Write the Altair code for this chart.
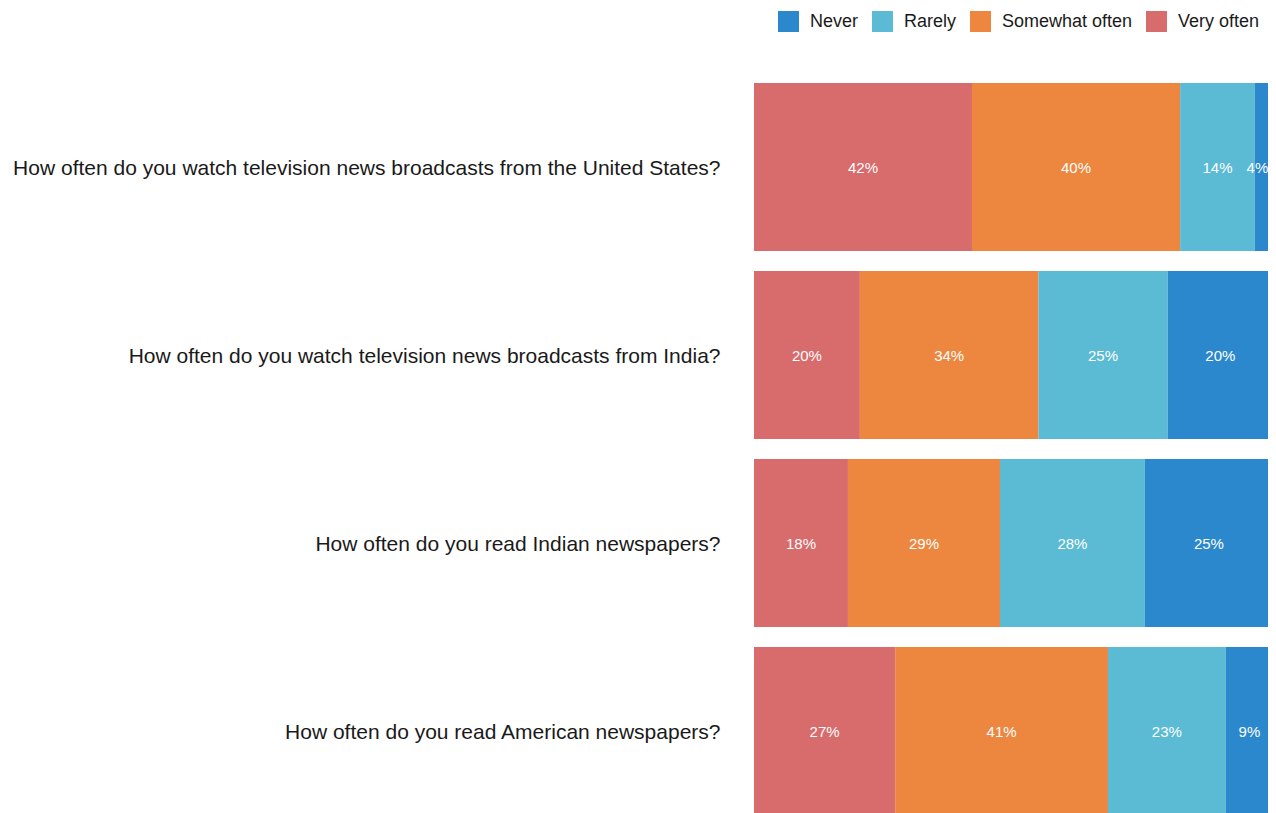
import altair as alt
import pandas as pd

questions = [
    "How often do you watch television news broadcasts from the United States?",
    "How often do you watch television news broadcasts from India?",
    "How often do you read Indian newspapers?",
    "How often do you read American newspapers?",
]
stack_order = ["Very often", "Somewhat often", "Rarely", "Never"]
very_often = [42.0, 20.4, 18.1, 27.2]
somewhat_often = [40.1, 34.4, 29.3, 41.0]
rarely = [14.4, 24.9, 27.9, 22.7]
never = [3.5, 20.3, 24.7, 9.1]

legend_order = ["Never", "Rarely", "Somewhat often", "Very often"]
legend_colors = ["#2b88cd", "#5bbad4", "#ed873f", "#d86b6c"]

series = {
    "Very often": very_often,
    "Somewhat often": somewhat_often,
    "Rarely": rarely,
    "Never": never,
}

rows = []
for qi, q in enumerate(questions):
    for rank, cat in enumerate(stack_order):
        rows.append({"question": q, "category": cat, "value": series[cat][qi], "rank": rank})
df = pd.DataFrame(rows)

FONT = "Liberation Sans"

base = (
    alt.Chart(df)
    .transform_stack(
        stack="value",
        groupby=["question"],
        as_=["x0", "x1"],
        sort=[alt.SortField("rank", order="ascending")],
        offset="normalize",
    )
    .transform_calculate(mid="min((datum.x0 + datum.x1) / 2, 0.97)",
                         label="round(datum.value) + '%'")
)

y_enc = alt.Y(
    "question:N",
    sort=questions,
    scale=alt.Scale(paddingInner=20 / 188, paddingOuter=0),
    axis=alt.Axis(
        title=None, ticks=False, domain=False, grid=False,
        labelFontSize=21, labelFont=FONT, labelColor="#1a1a1a",
        labelPadding=34, labelLimit=2000, labelOffset=2,
    ),
)
x_scale = alt.Scale(domain=[0, 1], range=[0, 519], nice=False, zero=True)

bars = base.mark_bar(strokeWidth=0).encode(
    x=alt.X("x0:Q", scale=x_scale, axis=None),
    x2="x1:Q",
    y=y_enc,
    color=alt.Color(
        "category:N",
        scale=alt.Scale(domain=legend_order, range=legend_colors),
        legend=alt.Legend(
            orient="none", legendX=24, legendY=-72, direction="horizontal",
            columns=4, title=None, symbolType="square", symbolSize=441,
            symbolStrokeWidth=0, symbolOpacity=1, labelFontSize=18,
            labelFont=FONT, labelColor="#1a1a1a", labelOffset=11,
            columnPadding=13,
        ),
    ),
)

texts = base.mark_text(color="white", fontSize=15, font=FONT, dy=1).encode(
    x=alt.X("mid:Q", scale=x_scale, axis=None),
    y=alt.Y("question:N", sort=questions),
    text="label:N",
)

chart = (
    alt.layer(bars, texts)
    .properties(
        width=514,
        height=732,
        padding={"left": 746, "top": 75, "right": 0, "bottom": 0},
        autosize=alt.AutoSizeParams(type="none"),
    )
    .configure_view(stroke=None)
)

chart.save("out.html", embed_options={"renderer": "svg", "actions": False})
